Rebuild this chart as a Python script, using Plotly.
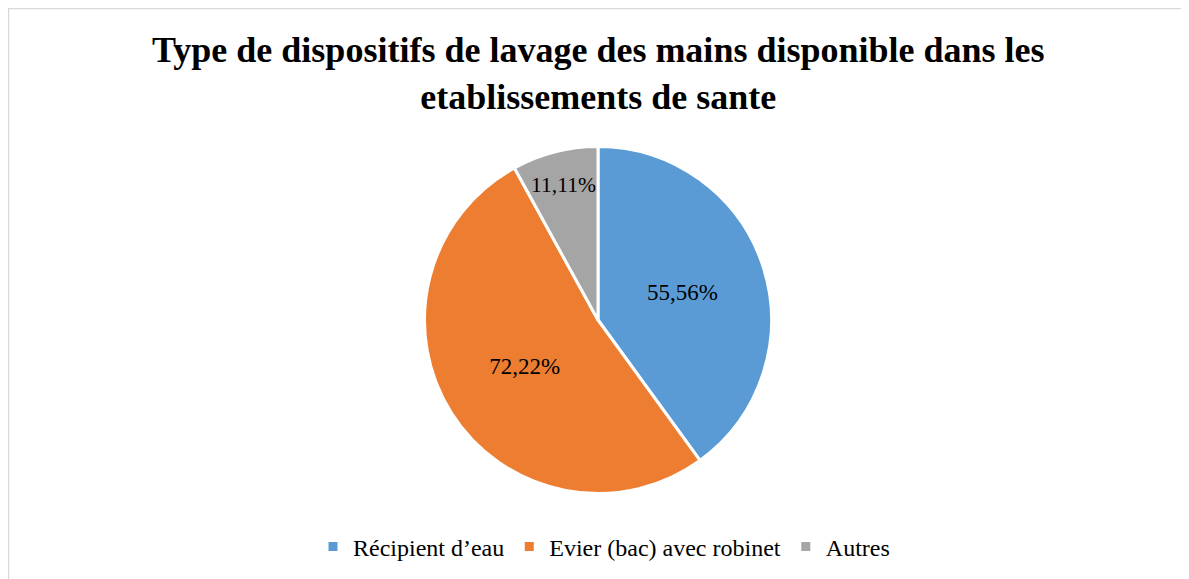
import plotly.graph_objects as go

categories = ["Récipient d’eau", "Evier (bac) avec robinet", "Autres"]
values = [55.56, 72.22, 11.11]
labels_text = ["55,56%", "72,22%", "11,11%"]
colors = ["#5B9BD5", "#ED7D31", "#A5A5A5"]

# figure is drawn at an 8px page offset, so reference coords are shifted by 8
W, H = 1181, 571
OFF = 8
cx, cy, r = 598 - OFF, 320 - OFF, 173.5

SERIF = "Liberation Serif, Times New Roman, serif"

fig = go.Figure(go.Pie(
    labels=categories,
    values=values,
    text=labels_text,
    texttemplate="%{text}",
    textinfo="text",
    textposition="inside",
    insidetextorientation="horizontal",
    sort=False,
    direction="clockwise",
    rotation=0,
    marker=dict(colors=colors, line=dict(color="white", width=3)),
    textfont=dict(family=SERIF, size=23, color="black"),
    domain=dict(x=[(cx - r) / W, (cx + r) / W], y=[1 - (cy + r) / H, 1 - (cy - r) / H]),
    hoverinfo="label+value",
))

fig.update_layout(
    width=W, height=H,
    margin=dict(l=0, r=0, t=0, b=0),
    paper_bgcolor="white",
    font=dict(family=SERIF, color="black"),
    annotations=[dict(
        text="Type de dispositifs de lavage des mains disponible dans les<br>etablissements de sante",
        x=(598 - OFF) / W, xanchor="center", xref="paper",
        y=1 - (74 - OFF) / H, yanchor="middle", yref="paper",
        showarrow=False,
        font=dict(family=SERIF, size=36, color="black", weight="bold"),
    )],
    legend=dict(
        orientation="h", x=(604 - OFF) / W, xanchor="center", y=1 - (547 - OFF) / H, yanchor="middle",
        font=dict(family=SERIF, size=24, color="black"),
        itemwidth=30,
    ),
    shapes=[dict(type="rect", xref="paper", yref="paper",
                 x0=0.5 / W, x1=1.2, y0=-0.2, y1=1 - 0.5 / H,
                 line=dict(color="#D9D9D9", width=1.5))],
)

fig.write_html("out.html")
